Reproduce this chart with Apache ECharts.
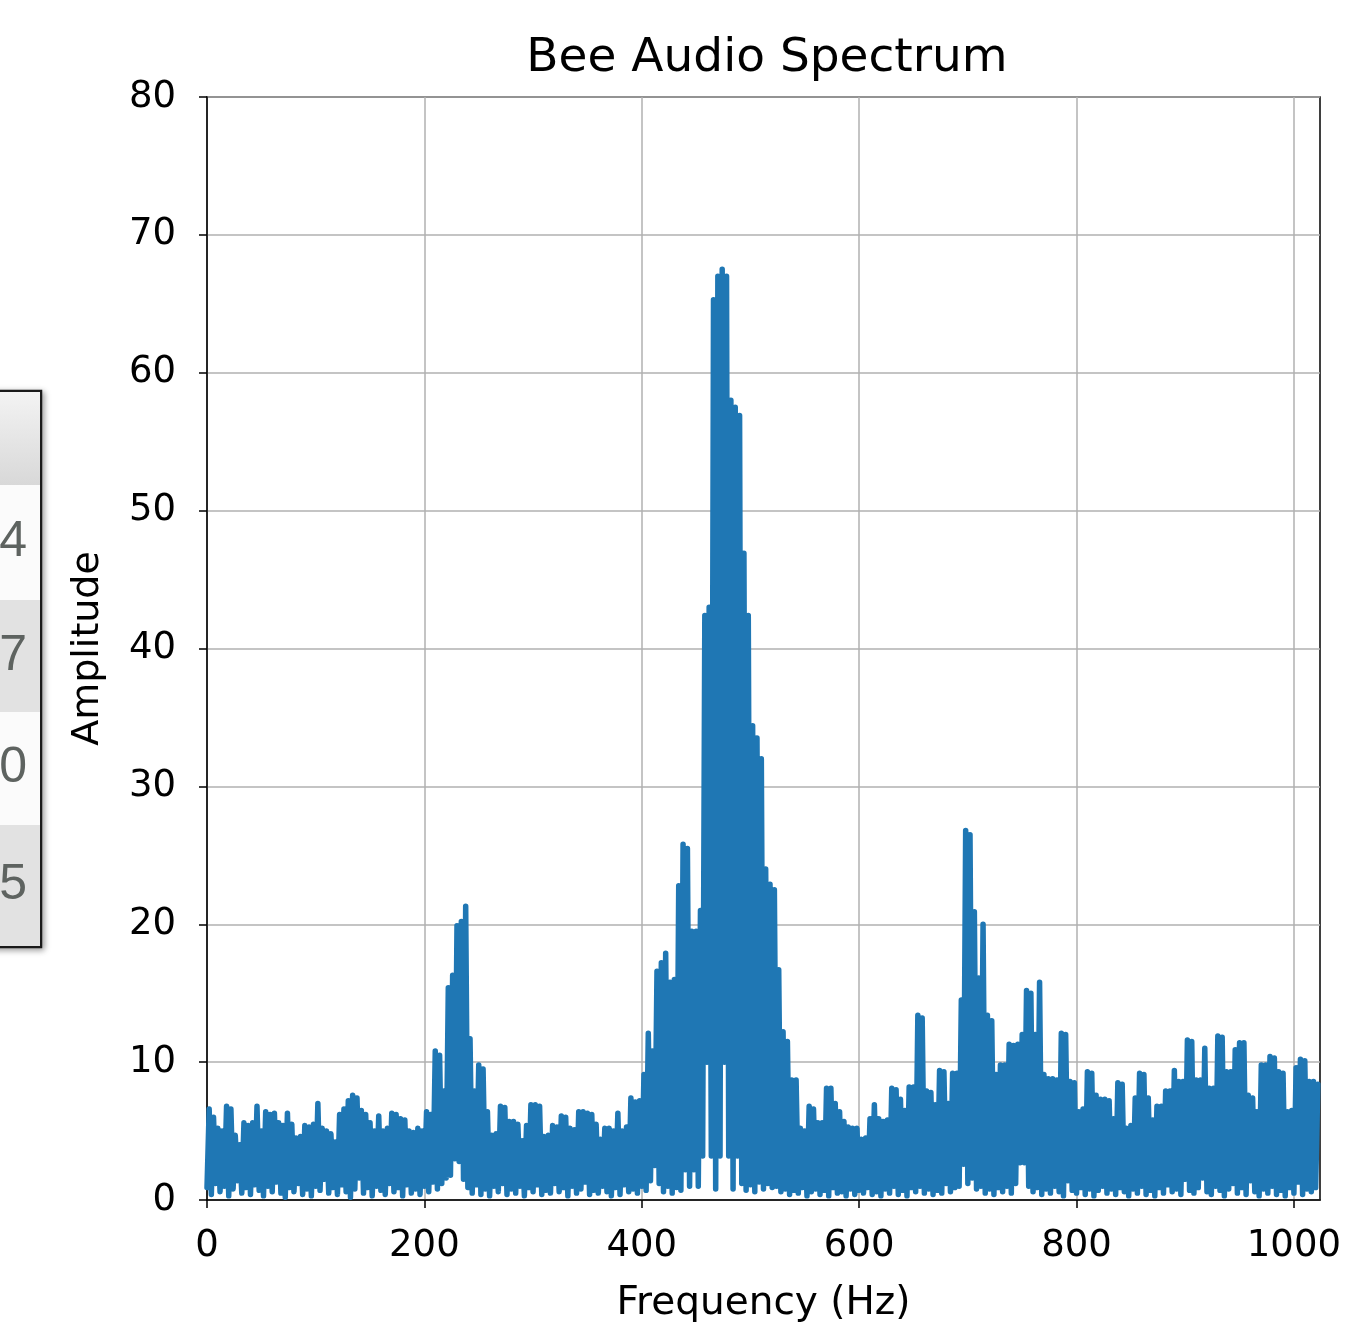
<!DOCTYPE html>
<html lang="en">
<head>
    <meta charset="UTF-8">
    <title>Bee Audio Spectrum</title>
    <script src="https://cdn.jsdelivr.net/npm/echarts@6/dist/echarts.min.js"></script>
    <style>
        html, body { margin: 0; padding: 0; background: #fff; }
        #main { width: 1353px; height: 1328px; }
    </style>
</head>
<body>
<div id="main"></div>

<script type="text/javascript">
    // spectrum in 4 Hz bins: top and bottom of the trace in each bin
    var binWidth = 4;
    var peakAmp = [
        6.6, 6.0, 5.2, 5.0, 6.8, 6.6, 4.7, 4.0, 5.6, 5.4,
        5.6, 6.8, 5.0, 6.4, 6.2, 6.3, 5.6, 5.4, 6.3, 5.5,
        4.5, 4.6, 5.4, 5.3, 5.5, 7.0, 5.2, 5.0, 4.8, 4.2,
        6.2, 6.6, 7.2, 7.6, 7.4, 6.5, 6.2, 5.6, 5.0, 6.1,
        5.0, 5.2, 6.3, 6.2, 5.9, 5.8, 5.0, 4.9, 5.2, 5.0,
        6.4, 6.2, 10.8, 10.5, 7.9, 15.4, 16.3, 19.9, 20.2, 21.3,
        11.7, 7.9, 9.8, 9.5, 6.4, 4.7, 4.8, 6.8, 6.7, 5.7,
        5.7, 5.5, 4.3, 5.4, 6.9, 6.9, 6.8, 4.6, 4.7, 5.4,
        5.3, 6.1, 6.0, 5.2, 5.1, 6.4, 6.4, 6.3, 6.2, 5.5,
        4.4, 5.2, 5.2, 5.0, 6.3, 5.0, 5.3, 7.4, 7.1, 7.2,
        9.1, 12.1, 10.8, 16.6, 17.2, 17.9, 15.8, 16.0, 22.8, 25.8,
        25.5, 19.5, 19.5, 21.0, 42.4, 43.0, 65.3, 67.0, 67.5, 67.0,
        58.0, 57.5, 56.9, 46.9, 42.4, 34.4, 33.5, 32.0, 24.0, 22.9,
        22.5, 16.7, 12.2, 11.5, 8.7, 8.7, 5.2, 5.0, 6.8, 6.6,
        5.6, 5.6, 8.1, 8.1, 7.0, 6.4, 5.7, 5.3, 5.2, 5.2,
        4.4, 4.5, 5.9, 6.9, 5.9, 5.7, 5.8, 8.1, 8.0, 7.3,
        6.5, 8.2, 8.2, 13.4, 13.2, 7.9, 7.8, 6.9, 9.4, 9.3,
        7.0, 9.2, 9.2, 14.5, 26.8, 26.5, 20.9, 16.1, 20.0, 13.4,
        13.0, 9.1, 9.8, 9.8, 11.3, 11.2, 11.3, 12.0, 15.2, 15.0,
        12.0, 15.8, 9.1, 8.8, 8.8, 8.7, 12.1, 12.0, 8.6, 8.5,
        6.4, 6.6, 9.3, 9.2, 7.6, 7.3, 7.3, 7.2, 5.9, 8.5,
        8.4, 5.2, 5.4, 7.4, 9.2, 9.1, 7.4, 5.8, 6.8, 6.8,
        7.9, 7.9, 9.4, 8.6, 8.6, 11.6, 11.5, 8.7, 8.7, 11.0,
        8.1, 8.1, 11.9, 11.8, 9.3, 9.3, 10.9, 11.4, 11.4, 7.6,
        7.4, 6.4, 9.8, 9.8, 10.4, 10.3, 9.3, 9.2, 6.4, 6.5,
        9.6, 10.2, 10.1, 8.6, 8.6, 8.4
    ];
    var floorAmp = [
        0.9, 0.4, 1.2, 0.6, 1.0, 0.3, 0.8, 1.4, 0.5, 0.9,
        0.4, 1.1, 0.7, 0.3, 1.0, 0.6, 1.3, 0.5, 0.2, 0.9,
        0.6, 1.2, 0.4, 0.8, 0.3, 1.0, 0.7, 1.5, 0.5, 0.9,
        0.4, 1.1, 0.6, 0.2, 0.8, 1.6, 0.5, 0.9, 0.3, 1.0,
        0.7, 0.4, 1.2, 0.6, 0.9, 0.3, 1.1, 0.5, 0.8, 0.4,
        1.0, 0.6, 1.3, 0.8, 1.2, 1.6, 1.8, 3.0, 2.8, 1.5,
        0.9, 0.5, 1.1, 0.4, 0.8, 0.3, 1.0, 0.6, 1.2, 0.4,
        0.8, 0.5, 1.0, 0.3, 0.9, 0.6, 1.1, 0.4, 0.7, 0.5,
        1.2, 0.6, 0.9, 0.3, 1.0, 0.5, 0.8, 1.3, 0.4, 0.7,
        0.5, 1.0, 0.6, 0.3, 0.9, 0.4, 1.1, 0.6, 0.8, 0.5,
        1.0, 0.7, 1.4, 2.5, 1.2, 0.6, 1.0, 0.5, 0.9, 0.7,
        2.2, 1.0, 2.2, 1.0, 3.2, 10.0, 3.2, 0.8, 3.2, 10.0,
        3.2, 0.8, 3.2, 1.2, 0.7, 1.1, 0.6, 1.3, 0.8, 1.2,
        0.9, 1.0, 0.6, 0.8, 0.4, 0.7, 0.5, 0.9, 0.3, 0.6,
        0.8, 0.4, 0.7, 0.3, 0.9, 0.5, 0.6, 0.3, 0.8, 0.4,
        0.7, 0.5, 0.9, 0.4, 0.6, 0.3, 0.8, 0.5, 1.0, 0.4,
        0.7, 0.3, 0.9, 0.6, 1.0, 0.5, 0.8, 0.4, 0.7, 0.5,
        1.2, 0.6, 0.9, 1.0, 2.6, 1.2, 1.6, 0.8, 1.0, 0.5,
        0.8, 0.4, 0.9, 0.6, 1.0, 0.5, 1.2, 2.7, 2.7, 1.0,
        0.6, 0.9, 0.4, 0.8, 0.5, 1.0, 0.6, 0.3, 1.4, 0.7,
        0.5, 0.9, 0.4, 0.8, 0.3, 0.7, 1.0, 0.5, 0.8, 0.4,
        0.9, 0.6, 0.3, 0.8, 0.5, 1.0, 0.4, 0.7, 0.3, 0.9,
        0.5, 1.1, 0.6, 0.8, 0.4, 1.5, 0.7, 0.5, 0.9, 1.6,
        0.6, 0.4, 1.0, 0.7, 0.3, 0.8, 1.2, 0.5, 0.9, 0.4,
        1.4, 0.6, 0.3, 0.8, 0.5, 1.0, 0.4, 0.7, 0.3, 0.9,
        0.5, 1.3, 0.4, 0.8, 0.6, 0.9
    ];
    var xTicks = [0, 200, 400, 600, 800, 1000];
    var yTicks = [0, 10, 20, 30, 40, 50, 60, 70, 80];
    // the cropped table at the left edge
    var tableDigits = ['4', '7', '0', '5'];

    // trace goes bottom -> top -> bottom inside every bin
    var trace = [];
    for (var i = 0; i < peakAmp.length; i++) {
        trace.push([i * binWidth, floorAmp[i]]);
        trace.push([i * binWidth + binWidth / 2, peakAmp[i]]);
    }

    var tableRows = [
        { y: 485, h: 115, fill: '#fbfbfb' },
        { y: 600, h: 112, fill: '#e2e2e2' },
        { y: 712, h: 113, fill: '#fbfbfb' },
        { y: 825, h: 121, fill: '#e2e2e2' }
    ];
    var tableGraphic = [{
        type: 'rect',
        shape: { x: -10, y: 391, width: 51, height: 556 },
        style: {
            fill: '#fff', stroke: '#1a1a1a', lineWidth: 2.5,
            shadowBlur: 6, shadowColor: 'rgba(0,0,0,0.35)', shadowOffsetX: 2, shadowOffsetY: 2
        },
        z: 10
    }, {
        type: 'rect',
        shape: { x: -10, y: 392, width: 50, height: 93 },
        style: {
            fill: new echarts.graphic.LinearGradient(0, 0, 0, 1, [
                { offset: 0, color: '#f3f3f3' },
                { offset: 1, color: '#d8d8d8' }
            ])
        },
        z: 11
    }];
    tableRows.forEach(function (r, k) {
        tableGraphic.push({
            type: 'rect',
            shape: { x: -10, y: r.y, width: 50, height: r.h },
            style: { fill: r.fill },
            z: 11
        });
        tableGraphic.push({
            type: 'text',
            x: 27, y: r.y + r.h / 2,
            style: {
                text: tableDigits[k], fill: '#5e6360',
                font: '50px "Liberation Sans", Arial, sans-serif',
                align: 'right', verticalAlign: 'middle'
            },
            z: 12
        });
    });

    var myChart = echarts.init(document.getElementById('main'));
    var font = '"DejaVu Sans", sans-serif';

    var option = {
        backgroundColor: '#fff',
        animation: false,
        title: {
            text: 'Bee Audio Spectrum',
            left: 762,
            top: 30,
            textAlign: 'center',
            textStyle: { fontFamily: font, fontSize: 47, fontWeight: 'normal', color: '#000' }
        },
        grid: {
            left: 207, top: 97, width: 1113, height: 1105,
            show: true, borderColor: '#000', borderWidth: 1.5, backgroundColor: 'transparent'
        },
        xAxis: {
            type: 'value',
            min: 0, max: 1024, interval: 200,
            name: 'Frequency (Hz)',
            nameLocation: 'middle',
            nameGap: 84,
            nameTextStyle: { fontFamily: font, fontSize: 39, color: '#000' },
            axisLine: { show: true, lineStyle: { color: '#000', width: 1.5 } },
            axisTick: { show: true, length: 8, lineStyle: { color: '#000', width: 1.5 }, customValues: xTicks },
            axisLabel: {
                fontFamily: font, fontSize: 37, color: '#000', margin: 28,
                customValues: xTicks,
                formatter: function (v) { return String(v); }
            },
            splitLine: { show: true, lineStyle: { color: '#b0b0b0', width: 1.5 } }
        },
        yAxis: {
            type: 'value',
            min: 0, max: 80, interval: 10,
            name: 'Amplitude',
            nameLocation: 'middle',
            nameGap: 100,
            nameTextStyle: { fontFamily: font, fontSize: 38, color: '#000' },
            axisLine: { show: true, lineStyle: { color: '#000', width: 1.5 } },
            axisTick: { show: true, length: 8, lineStyle: { color: '#000', width: 1.5 }, customValues: yTicks },
            axisLabel: { fontFamily: font, fontSize: 37, color: '#000', margin: 31, customValues: yTicks },
            splitLine: { show: true, lineStyle: { color: '#b0b0b0', width: 1.5 } }
        },
        graphic: tableGraphic,
        series: [{
            name: 'Amplitude',
            type: 'line',
            data: trace,
            showSymbol: false,
            symbol: 'none',
            sampling: 'none',
            lineStyle: { color: '#1f77b4', width: 5.5, join: 'round', cap: 'round' }
        }]
    };
    myChart.setOption(option);
</script>
</body>
</html>
